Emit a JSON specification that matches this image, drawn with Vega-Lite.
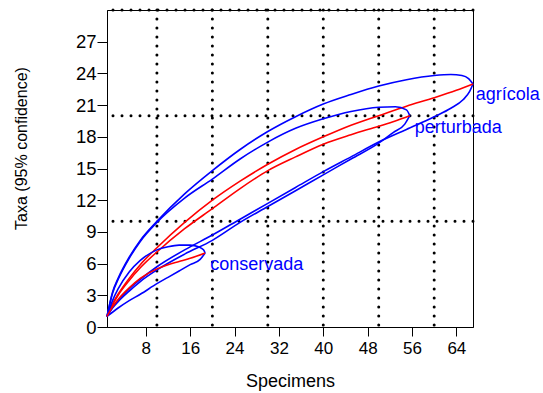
{
  "$schema": "https://vega.github.io/schema/vega-lite/v6.json",
  "width": 366,
  "height": 317,
  "autosize": {"type": "none"},
  "padding": {"left": 107, "top": 10, "right": 70, "bottom": 66},
  "background": "white",
  "config": {
    "view": {"stroke": "black", "strokeWidth": 1},
    "font": "Liberation Sans",
    "axis": {"domainColor": "black", "tickColor": "black", "labelColor": "black", "titleColor": "black", "grid": false, "labelFont": "Liberation Sans", "titleFont": "Liberation Sans", "titleFontWeight": "normal"}
  },
  "datasets": {
    "curves": [
      {"curve": "A_up", "kind": "ci", "x": 1, "y": 1}, {"curve": "A_up", "kind": "ci", "x": 2, "y": 3.3}, {"curve": "A_up", "kind": "ci", "x": 3, "y": 4.6}, {"curve": "A_up", "kind": "ci", "x": 5, "y": 6.6}, {"curve": "A_up", "kind": "ci", "x": 7, "y": 8.2}, {"curve": "A_up", "kind": "ci", "x": 10, "y": 10.0}, {"curve": "A_up", "kind": "ci", "x": 15, "y": 12.6}, {"curve": "A_up", "kind": "ci", "x": 20, "y": 14.8}, {"curve": "A_up", "kind": "ci", "x": 25, "y": 16.8}, {"curve": "A_up", "kind": "ci", "x": 30, "y": 18.5}, {"curve": "A_up", "kind": "ci", "x": 35, "y": 19.9}, {"curve": "A_up", "kind": "ci", "x": 40, "y": 21.1}, {"curve": "A_up", "kind": "ci", "x": 45, "y": 22.0}, {"curve": "A_up", "kind": "ci", "x": 50, "y": 22.8}, {"curve": "A_up", "kind": "ci", "x": 55, "y": 23.4}, {"curve": "A_up", "kind": "ci", "x": 60, "y": 23.8}, {"curve": "A_up", "kind": "ci", "x": 63, "y": 23.9}, {"curve": "A_up", "kind": "ci", "x": 65, "y": 23.8}, {"curve": "A_up", "kind": "ci", "x": 66.2, "y": 23.5}, {"curve": "A_up", "kind": "ci", "x": 67, "y": 23.0},
      {"curve": "A_lo", "kind": "ci", "x": 1, "y": 1}, {"curve": "A_lo", "kind": "ci", "x": 2, "y": 1.9}, {"curve": "A_lo", "kind": "ci", "x": 3, "y": 2.5}, {"curve": "A_lo", "kind": "ci", "x": 5, "y": 3.6}, {"curve": "A_lo", "kind": "ci", "x": 7, "y": 4.5}, {"curve": "A_lo", "kind": "ci", "x": 10, "y": 5.7}, {"curve": "A_lo", "kind": "ci", "x": 15, "y": 7.3}, {"curve": "A_lo", "kind": "ci", "x": 20, "y": 8.7}, {"curve": "A_lo", "kind": "ci", "x": 25, "y": 10.2}, {"curve": "A_lo", "kind": "ci", "x": 30, "y": 11.7}, {"curve": "A_lo", "kind": "ci", "x": 35, "y": 13.2}, {"curve": "A_lo", "kind": "ci", "x": 40, "y": 14.7}, {"curve": "A_lo", "kind": "ci", "x": 45, "y": 16.1}, {"curve": "A_lo", "kind": "ci", "x": 50, "y": 17.5}, {"curve": "A_lo", "kind": "ci", "x": 55, "y": 18.7}, {"curve": "A_lo", "kind": "ci", "x": 60, "y": 19.9}, {"curve": "A_lo", "kind": "ci", "x": 63, "y": 20.7}, {"curve": "A_lo", "kind": "ci", "x": 65.2, "y": 21.5}, {"curve": "A_lo", "kind": "ci", "x": 66.4, "y": 22.3}, {"curve": "A_lo", "kind": "ci", "x": 67, "y": 23.0},
      {"curve": "A_mean", "kind": "mean", "x": 1, "y": 1}, {"curve": "A_mean", "kind": "mean", "x": 2, "y": 2.2}, {"curve": "A_mean", "kind": "mean", "x": 3, "y": 3.1}, {"curve": "A_mean", "kind": "mean", "x": 5, "y": 4.6}, {"curve": "A_mean", "kind": "mean", "x": 7, "y": 5.9}, {"curve": "A_mean", "kind": "mean", "x": 10, "y": 7.5}, {"curve": "A_mean", "kind": "mean", "x": 15, "y": 9.9}, {"curve": "A_mean", "kind": "mean", "x": 20, "y": 12.0}, {"curve": "A_mean", "kind": "mean", "x": 25, "y": 13.8}, {"curve": "A_mean", "kind": "mean", "x": 30, "y": 15.4}, {"curve": "A_mean", "kind": "mean", "x": 35, "y": 16.8}, {"curve": "A_mean", "kind": "mean", "x": 40, "y": 18.0}, {"curve": "A_mean", "kind": "mean", "x": 45, "y": 19.1}, {"curve": "A_mean", "kind": "mean", "x": 50, "y": 20.0}, {"curve": "A_mean", "kind": "mean", "x": 55, "y": 20.9}, {"curve": "A_mean", "kind": "mean", "x": 60, "y": 21.7}, {"curve": "A_mean", "kind": "mean", "x": 64, "y": 22.4}, {"curve": "A_mean", "kind": "mean", "x": 67, "y": 23.0},
      {"curve": "P_up", "kind": "ci", "x": 1, "y": 1}, {"curve": "P_up", "kind": "ci", "x": 2, "y": 3.2}, {"curve": "P_up", "kind": "ci", "x": 3, "y": 4.5}, {"curve": "P_up", "kind": "ci", "x": 5, "y": 6.5}, {"curve": "P_up", "kind": "ci", "x": 7, "y": 8.1}, {"curve": "P_up", "kind": "ci", "x": 10, "y": 9.9}, {"curve": "P_up", "kind": "ci", "x": 15, "y": 12.2}, {"curve": "P_up", "kind": "ci", "x": 20, "y": 14.0}, {"curve": "P_up", "kind": "ci", "x": 25, "y": 15.9}, {"curve": "P_up", "kind": "ci", "x": 30, "y": 17.5}, {"curve": "P_up", "kind": "ci", "x": 35, "y": 18.8}, {"curve": "P_up", "kind": "ci", "x": 40, "y": 19.7}, {"curve": "P_up", "kind": "ci", "x": 45, "y": 20.4}, {"curve": "P_up", "kind": "ci", "x": 50, "y": 20.8}, {"curve": "P_up", "kind": "ci", "x": 53, "y": 20.85}, {"curve": "P_up", "kind": "ci", "x": 55, "y": 20.55}, {"curve": "P_up", "kind": "ci", "x": 55.6, "y": 20.0},
      {"curve": "P_lo", "kind": "ci", "x": 1, "y": 1}, {"curve": "P_lo", "kind": "ci", "x": 2, "y": 1.8}, {"curve": "P_lo", "kind": "ci", "x": 3, "y": 2.4}, {"curve": "P_lo", "kind": "ci", "x": 5, "y": 3.4}, {"curve": "P_lo", "kind": "ci", "x": 7, "y": 4.3}, {"curve": "P_lo", "kind": "ci", "x": 10, "y": 5.4}, {"curve": "P_lo", "kind": "ci", "x": 15, "y": 6.9}, {"curve": "P_lo", "kind": "ci", "x": 20, "y": 8.2}, {"curve": "P_lo", "kind": "ci", "x": 25, "y": 9.9}, {"curve": "P_lo", "kind": "ci", "x": 30, "y": 11.4}, {"curve": "P_lo", "kind": "ci", "x": 35, "y": 12.9}, {"curve": "P_lo", "kind": "ci", "x": 40, "y": 14.4}, {"curve": "P_lo", "kind": "ci", "x": 45, "y": 15.9}, {"curve": "P_lo", "kind": "ci", "x": 50, "y": 17.4}, {"curve": "P_lo", "kind": "ci", "x": 52.6, "y": 18.4}, {"curve": "P_lo", "kind": "ci", "x": 54.7, "y": 19.2}, {"curve": "P_lo", "kind": "ci", "x": 55.6, "y": 20.0},
      {"curve": "P_mean", "kind": "mean", "x": 1, "y": 1}, {"curve": "P_mean", "kind": "mean", "x": 2, "y": 2.1}, {"curve": "P_mean", "kind": "mean", "x": 3, "y": 3.0}, {"curve": "P_mean", "kind": "mean", "x": 5, "y": 4.4}, {"curve": "P_mean", "kind": "mean", "x": 7, "y": 5.6}, {"curve": "P_mean", "kind": "mean", "x": 10, "y": 7.1}, {"curve": "P_mean", "kind": "mean", "x": 15, "y": 9.3}, {"curve": "P_mean", "kind": "mean", "x": 20, "y": 11.2}, {"curve": "P_mean", "kind": "mean", "x": 25, "y": 13.1}, {"curve": "P_mean", "kind": "mean", "x": 30, "y": 14.8}, {"curve": "P_mean", "kind": "mean", "x": 35, "y": 16.1}, {"curve": "P_mean", "kind": "mean", "x": 40, "y": 17.3}, {"curve": "P_mean", "kind": "mean", "x": 45, "y": 18.2}, {"curve": "P_mean", "kind": "mean", "x": 50, "y": 19.0}, {"curve": "P_mean", "kind": "mean", "x": 53, "y": 19.5}, {"curve": "P_mean", "kind": "mean", "x": 55.6, "y": 20.0},
      {"curve": "C_up", "kind": "ci", "x": 1, "y": 1}, {"curve": "C_up", "kind": "ci", "x": 2, "y": 2.5}, {"curve": "C_up", "kind": "ci", "x": 3, "y": 3.6}, {"curve": "C_up", "kind": "ci", "x": 5, "y": 5.2}, {"curve": "C_up", "kind": "ci", "x": 7, "y": 6.3}, {"curve": "C_up", "kind": "ci", "x": 10, "y": 7.3}, {"curve": "C_up", "kind": "ci", "x": 12, "y": 7.6}, {"curve": "C_up", "kind": "ci", "x": 14, "y": 7.75}, {"curve": "C_up", "kind": "ci", "x": 16, "y": 7.75}, {"curve": "C_up", "kind": "ci", "x": 17.5, "y": 7.6}, {"curve": "C_up", "kind": "ci", "x": 18.4, "y": 7.3}, {"curve": "C_up", "kind": "ci", "x": 18.7, "y": 7.0},
      {"curve": "C_lo", "kind": "ci", "x": 1, "y": 1}, {"curve": "C_lo", "kind": "ci", "x": 3, "y": 1.8}, {"curve": "C_lo", "kind": "ci", "x": 5, "y": 2.5}, {"curve": "C_lo", "kind": "ci", "x": 7, "y": 3.1}, {"curve": "C_lo", "kind": "ci", "x": 10, "y": 4.1}, {"curve": "C_lo", "kind": "ci", "x": 12, "y": 4.7}, {"curve": "C_lo", "kind": "ci", "x": 14, "y": 5.3}, {"curve": "C_lo", "kind": "ci", "x": 16, "y": 5.9}, {"curve": "C_lo", "kind": "ci", "x": 17.8, "y": 6.4}, {"curve": "C_lo", "kind": "ci", "x": 18.7, "y": 7.0},
      {"curve": "C_mean", "kind": "mean", "x": 1, "y": 1}, {"curve": "C_mean", "kind": "mean", "x": 2, "y": 1.9}, {"curve": "C_mean", "kind": "mean", "x": 3, "y": 2.6}, {"curve": "C_mean", "kind": "mean", "x": 5, "y": 3.7}, {"curve": "C_mean", "kind": "mean", "x": 7, "y": 4.6}, {"curve": "C_mean", "kind": "mean", "x": 10, "y": 5.5}, {"curve": "C_mean", "kind": "mean", "x": 12, "y": 5.9}, {"curve": "C_mean", "kind": "mean", "x": 14, "y": 6.2}, {"curve": "C_mean", "kind": "mean", "x": 16, "y": 6.5}, {"curve": "C_mean", "kind": "mean", "x": 18.7, "y": 7.0}
    ],
    "vgrid": [{"gx": 10}, {"gx": 20}, {"gx": 30}, {"gx": 40}, {"gx": 50}, {"gx": 60}],
    "hgrid": [{"gy": 10}, {"gy": 20}, {"gy": 30}],
    "labels": [
      {"label": "agrícola", "x": 67.5, "y": 22.0},
      {"label": "perturbada", "x": 56.5, "y": 18.85},
      {"label": "conservada", "x": 19.6, "y": 5.85}
    ]
  },
  "encoding": {
    "x": {"type": "quantitative", "scale": {"domain": [1, 67], "nice": false, "zero": false},
      "axis": {"values": [8, 16, 24, 32, 40, 48, 56, 64], "tickSize": 9, "labelFontSize": 17, "labelPadding": 4, "title": "Specimens", "titleFontSize": 18, "titlePadding": 16}},
    "y": {"type": "quantitative", "scale": {"domain": [0, 30], "nice": false, "zero": true},
      "axis": {"values": [0, 3, 6, 9, 12, 15, 18, 21, 24, 27], "labelOverlap": false, "tickSize": 10, "labelFontSize": 18.5, "labelPadding": 1, "title": "Taxa (95% confidence)", "titleFontSize": 16, "titleX": -86, "titleY": 138, "titleBaseline": "middle", "titleAlign": "center", "titleAngle": -90}}
  },
  "layer": [
    {
      "data": {"name": "vgrid"},
      "mark": {"type": "rule", "color": "black", "strokeWidth": 3, "strokeDash": [0, 9], "strokeCap": "round"},
      "encoding": {"x": {"field": "gx"}}
    },
    {
      "data": {"name": "hgrid"},
      "mark": {"type": "rule", "color": "black", "strokeWidth": 3, "strokeDash": [0, 9], "strokeCap": "round"},
      "encoding": {"y": {"field": "gy"}}
    },
    {
      "data": {"name": "curves"},
      "mark": {"type": "line", "interpolate": "monotone", "strokeWidth": 1.6},
      "encoding": {
        "x": {"field": "x"},
        "y": {"field": "y"},
        "detail": {"field": "curve"},
        "color": {"field": "kind", "type": "nominal", "scale": {"domain": ["ci", "mean"], "range": ["#0000ff", "#ff0000"]}, "legend": null}
      }
    },
    {
      "data": {"name": "labels"},
      "mark": {"type": "text", "align": "left", "baseline": "middle", "fontSize": 18, "color": "#0000ff", "font": "Liberation Sans"},
      "encoding": {
        "x": {"field": "x"},
        "y": {"field": "y"},
        "text": {"field": "label"}
      }
    }
  ]
}
